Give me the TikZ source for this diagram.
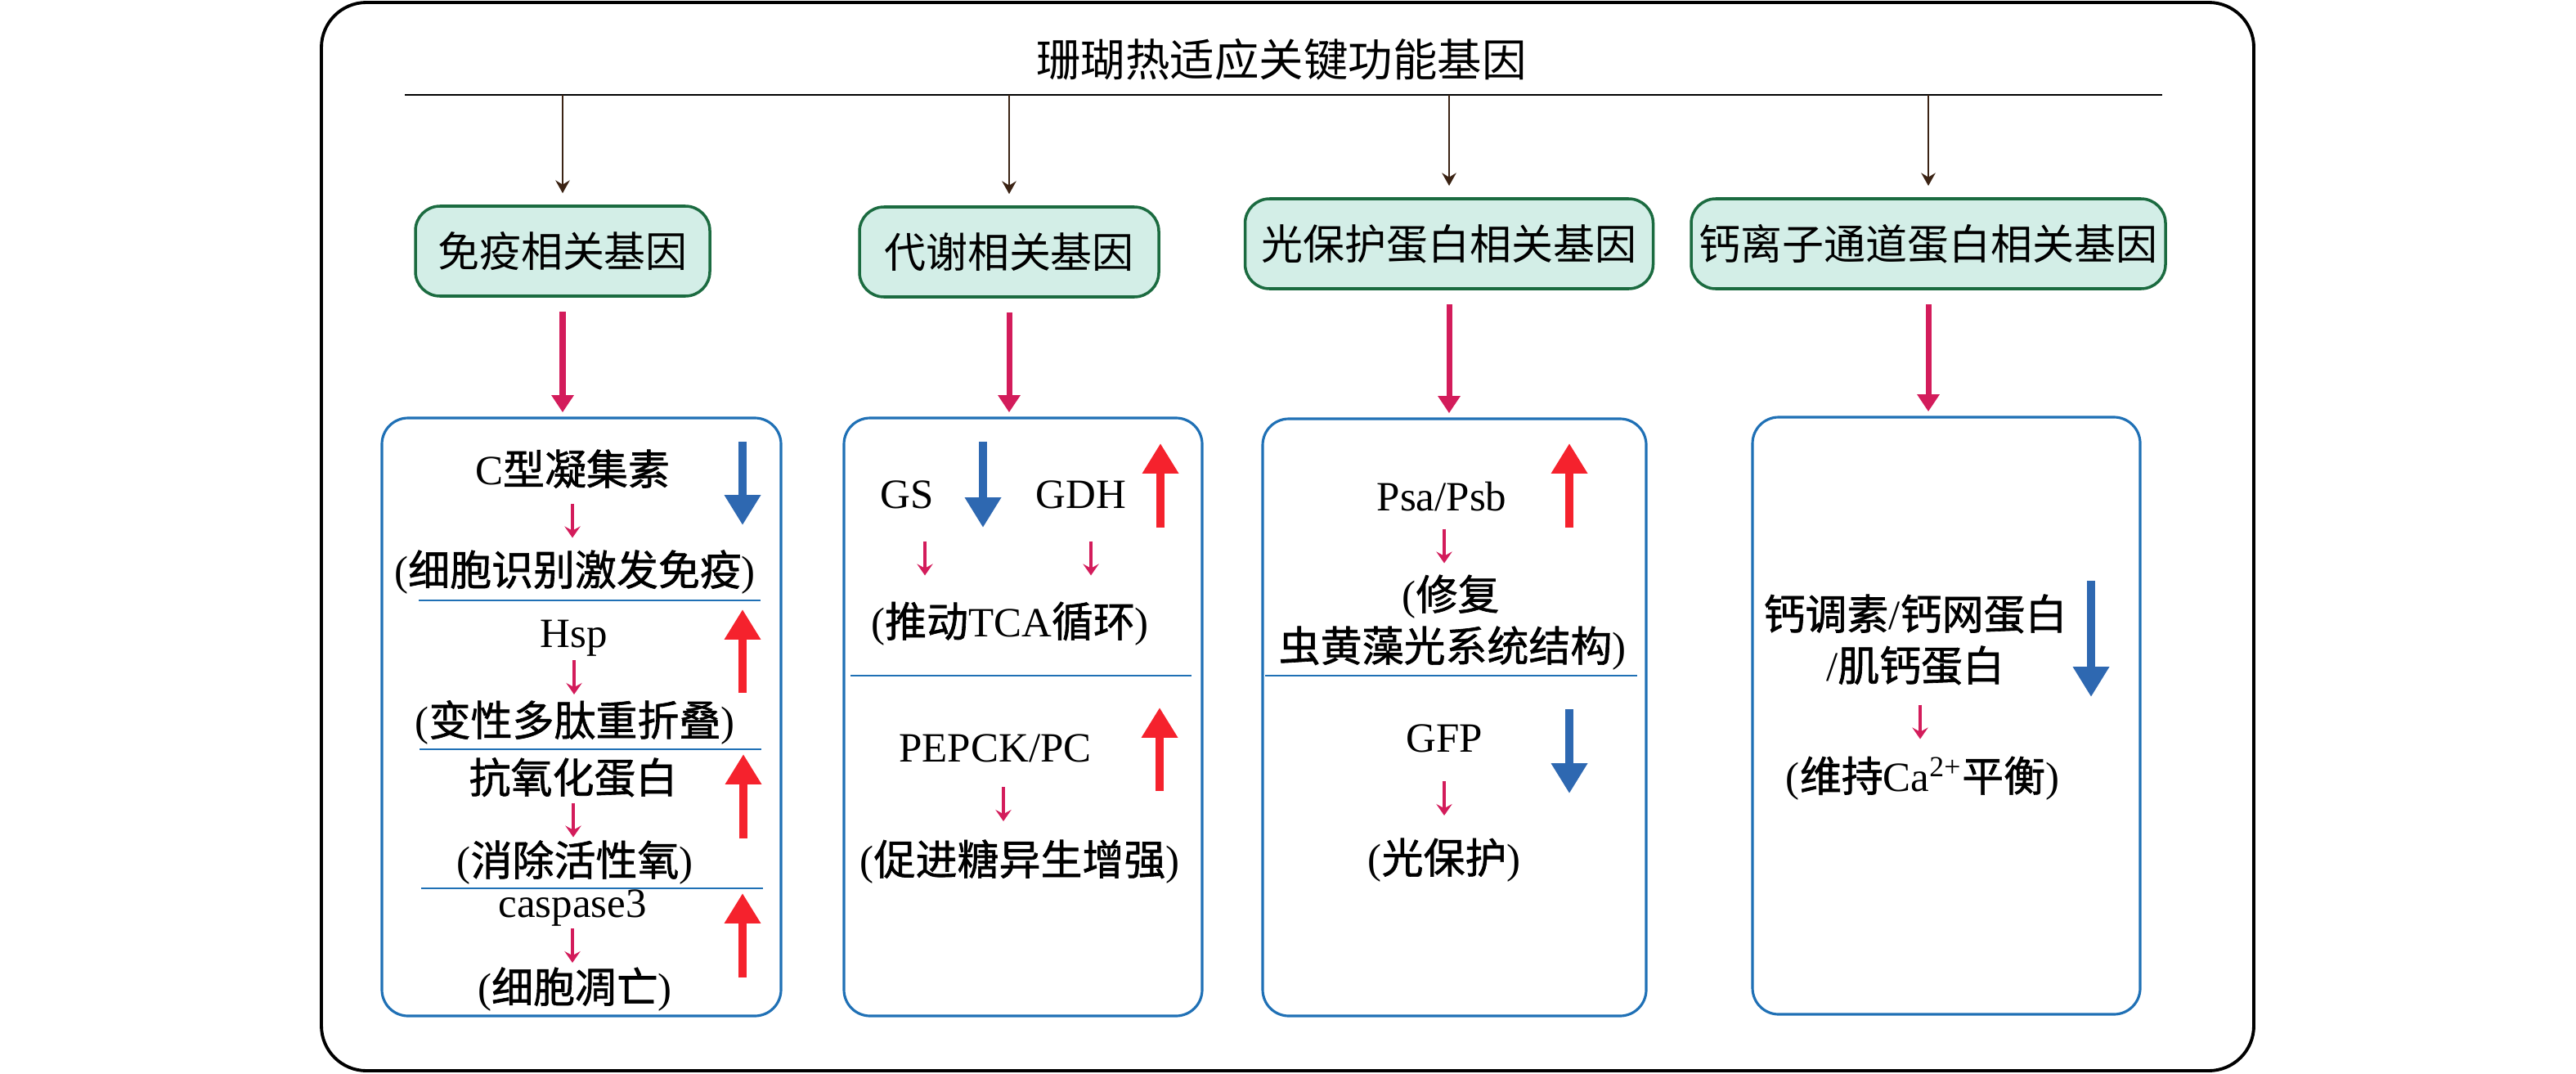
\documentclass[tikz,border=0pt]{standalone}
\usepackage{fontspec}
\setmainfont{Liberation Serif}
\newfontfamily\cjk{Noto Sans CJK SC}
\newfontfamily\cjkb{Noto Sans CJK SC}[FakeBold=1.2]
\usetikzlibrary{arrows.meta,calc}

\newcommand{\zh}[1]{{\cjkb #1}}

\definecolor{catgreen}{HTML}{1B6B40}
\definecolor{catfill}{HTML}{D3EEE7}
\definecolor{boxblue}{HTML}{1F70B5}
\definecolor{downblue}{HTML}{2E68B1}
\definecolor{upred}{HTML}{F5222D}
\definecolor{linkpink}{HTML}{D31C5B}
\definecolor{stembrown}{HTML}{3B2314}

\tikzset{
  catbox/.style={draw=catgreen, fill=catfill, line width=1pt, rounded corners=0.3cm,
    minimum height=1.1cm, inner sep=0pt, font=\fontsize{14.5pt}{17pt}\selectfont\cjk},
  panel/.style={draw=boxblue, line width=0.9pt, rounded corners=0.32cm, inner sep=0pt},
  txt/.style={font=\fontsize{14.5pt}{17pt}\selectfont, text height=12pt, text depth=2pt, inner sep=1pt},
  sepline/.style={boxblue, line width=0.6pt},
  stemarr/.style={stembrown, line width=0.5pt, -{Stealth[length=4.5pt,width=5pt,inset=1.5pt]}},
  feedarr/.style={linkpink, line width=2pt, -{Triangle[length=6pt,width=7.5pt]}},
  linkarr/.style={linkpink, line width=1pt, -{Stealth[length=4pt,width=5.5pt,inset=1.5pt]}},
  risearr/.style={upred, line width=3.1pt, -{Triangle[length=10.5pt,width=12pt]}},
  fallarr/.style={downblue, line width=3.1pt, -{Triangle[length=10.5pt,width=12pt]}}
}

\begin{document}
\begin{tikzpicture}
\useasboundingbox (0,0) rectangle (31.5,13.12);

% Outer frame
\draw[line width=1.1pt, rounded corners=0.55cm] (3.93,0.03) rectangle (27.56,13.09);

% Title and bar
\node[font=\fontsize{15.5pt}{18pt}\selectfont\cjk] (title) at (15.67,12.39) {珊瑚热适应关键功能基因};
\coordinate (barL) at (4.95,11.96);
\coordinate (barR) at (26.44,11.96);
\draw[line width=0.8pt] (barL) -- (barR);

% Gene groups
\node[catbox, minimum width=3.60cm] (imm) at (6.88,10.05) {免疫相关基因};
\node[catbox, minimum width=3.66cm] (met) at (12.34,10.04) {代谢相关基因};
\node[catbox, minimum width=4.99cm] (pho) at (17.72,10.14) {光保护蛋白相关基因};
\node[catbox, minimum width=5.80cm] (cal) at (23.58,10.14) {钙离子通道蛋白相关基因};

\draw[stemarr, shorten >=4pt] (imm.north |- barL) -- (imm.north);
\draw[stemarr, shorten >=4pt] (met.north |- barL) -- (met.north);
\draw[stemarr, shorten >=4pt] (pho.north |- barL) -- (pho.north);
\draw[stemarr, shorten >=4pt] (cal.north |- barL) -- (cal.north);

% Detail panels
\node[panel, minimum width=4.88cm, minimum height=7.31cm] (immbox) at (7.11,4.355) {};
\node[panel, minimum width=4.38cm, minimum height=7.31cm] (metbox) at (12.51,4.355) {};
\node[panel, minimum width=4.69cm, minimum height=7.30cm] (phobox) at (17.785,4.35) {};
\node[panel, minimum width=4.74cm, minimum height=7.30cm] (calbox) at (23.80,4.37) {};

\draw[feedarr, shorten <=5pt, shorten >=1.5pt] (imm.south) -- (imm.south |- immbox.north);
\draw[feedarr, shorten <=5pt, shorten >=1.5pt] (met.south) -- (met.south |- metbox.north);
\draw[feedarr, shorten <=5pt, shorten >=1.5pt] (pho.south) -- (pho.south |- phobox.north);
\draw[feedarr, shorten <=5pt, shorten >=1.5pt] (cal.south) -- (cal.south |- calbox.north);

% Immune panel
\node[txt] (clec) at (7.00,7.37) {C\zh{型凝集素}};
\node[txt] (clecfn) at (7.03,6.14) {(\zh{细胞识别激发免疫})};
\node[txt] (hsp) at (7.02,5.38) {Hsp};
\node[txt] (hspfn) at (7.03,4.30) {(\zh{变性多肽重折叠})};
\node[txt] (aox) at (7.01,3.60) {\zh{抗氧化蛋白}};
\node[txt] (aoxfn) at (7.03,2.59) {(\zh{消除活性氧})};
\node[txt] (casp) at (7.00,2.08) {caspase3};
\node[txt] (caspfn) at (7.03,1.04) {(\zh{细胞凋亡})};
\draw[sepline] (5.12,5.78) -- (9.30,5.78);
\draw[sepline] (5.13,3.96) -- (9.31,3.96);
\draw[sepline] (5.15,2.26) -- (9.33,2.26);
\draw[linkarr] ($(clec)!.5!(clec |- clecfn) + (0,0.21)$) -- ++(0,-0.42);
\draw[linkarr] ($(hsp)!.5!(hsp |- hspfn) + (0,0.21)$) -- ++(0,-0.42);
\draw[linkarr] ($(aox)!.5!(aox |- aoxfn) + (0,0.21)$) -- ++(0,-0.42);
\draw[linkarr] ($(casp)!.5!(casp |- caspfn) + (0,0.21)$) -- ++(0,-0.42);
\draw[fallarr] (9.08,7.72) -- (9.08,6.70);
\draw[risearr] (9.08,4.65) -- (9.08,5.67);
\draw[risearr] (9.09,2.87) -- (9.09,3.90);
\draw[risearr] (9.08,1.17) -- (9.08,2.20);

% Metabolism panel
\node[txt] (gs) at (11.09,7.08) {GS};
\node[txt] (gdh) at (13.22,7.08) {GDH};
\node[txt] (tca) at (12.35,5.51) {(\zh{推动}TCA\zh{循环})};
\node[txt] (pepck) at (12.17,3.98) {PEPCK/PC};
\node[txt] (pepckfn) at (12.47,2.60) {(\zh{促进糖异生增强})};
\draw[sepline] (10.40,4.86) -- (14.57,4.86);
\draw[linkarr] ($(gs)!.5!(gs |- tca) + (0.22,0.21)$) -- ++(0,-0.42);
\draw[linkarr] ($(gdh)!.5!(gdh |- tca) + (0.12,0.21)$) -- ++(0,-0.42);
\draw[linkarr] ($(pepck)!.5!(pepck |- pepckfn) + (0.10,0.21)$) -- ++(0,-0.42);
\draw[fallarr] (12.02,7.72) -- (12.02,6.67);
\draw[risearr] (14.19,6.67) -- (14.19,7.70);
\draw[risearr] (14.18,3.45) -- (14.18,4.47);

% Photoprotection panel
\node[txt] (psa) at (17.63,7.05) {Psa/Psb};
\node[txt] (repa) at (17.74,5.84) {(\zh{修复}};
\node[txt] (repb) at (17.76,5.21) {\zh{虫黄藻光系统结构})};
\node[txt] (gfp) at (17.66,4.10) {GFP};
\node[txt] (gfpfn) at (17.66,2.62) {(\zh{光保护})};
\draw[sepline] (15.47,4.86) -- (20.02,4.86);
\draw[linkarr] ($(psa)!.5!(psa |- repa) + (0.03,0.21)$) -- ++(0,-0.42);
\draw[linkarr] ($(gfp)!.5!(gfp |- gfpfn) + (0,0.21)$) -- ++(0,-0.42);
\draw[risearr] (19.19,6.67) -- (19.19,7.70);
\draw[fallarr] (19.19,4.45) -- (19.19,3.42);

% Calcium channel panel
\node[txt] (cam) at (23.42,5.60) {\zh{钙调素}/\zh{钙网蛋白}};
\node[txt] (camb) at (23.42,4.97) {/\zh{肌钙蛋白}};
\node[txt] (camfn) at (23.51,3.62) {(\zh{维持}Ca\textsuperscript{2+}\zh{平衡})};
\draw[linkarr] ($(camb)!.5!(camb |- camfn) + (0.06,0.21)$) -- ++(0,-0.42);
\draw[fallarr] (25.57,6.02) -- (25.57,4.60);
\end{tikzpicture}
\end{document}
